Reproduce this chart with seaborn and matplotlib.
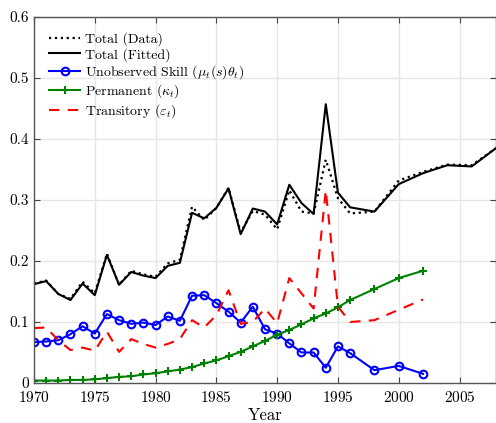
import numpy as np
import pandas as pd
import matplotlib
matplotlib.use("Agg")
import matplotlib.pyplot as plt
import seaborn as sns

# years for the component series (annual to 1996, then every 2 years)
years = list(range(1970, 1997)) + [1998, 2000, 2002]
years_total = years + [2004, 2006, 2008]

total_data = [0.163, 0.168, 0.146, 0.138, 0.166, 0.147, 0.212, 0.161, 0.184, 0.178,
              0.174, 0.196, 0.202, 0.289, 0.267, 0.287, 0.320, 0.247, 0.282, 0.276,
              0.252, 0.316, 0.281, 0.278, 0.366, 0.303, 0.278, 0.281, 0.332, 0.346,
              0.358, 0.357, 0.385]
total_fit = [0.162, 0.167, 0.146, 0.136, 0.163, 0.144, 0.210, 0.161, 0.182, 0.176,
             0.172, 0.192, 0.197, 0.279, 0.270, 0.287, 0.319, 0.244, 0.286, 0.281,
             0.260, 0.325, 0.295, 0.277, 0.457, 0.312, 0.288, 0.281, 0.326, 0.344,
             0.357, 0.355, 0.385]
skill = [0.067, 0.068, 0.070, 0.080, 0.093, 0.081, 0.113, 0.103, 0.097, 0.099,
         0.095, 0.109, 0.102, 0.143, 0.144, 0.131, 0.117, 0.099, 0.125, 0.088,
         0.081, 0.065, 0.050, 0.050, 0.025, 0.060, 0.049, 0.021, 0.028, 0.015]
permanent = [0.004, 0.004, 0.004, 0.005, 0.005, 0.006, 0.008, 0.010, 0.011, 0.014,
             0.016, 0.019, 0.022, 0.026, 0.032, 0.037, 0.044, 0.051, 0.060, 0.069,
             0.079, 0.087, 0.096, 0.106, 0.114, 0.124, 0.136, 0.154, 0.172, 0.184]
transitory = [0.090, 0.091, 0.070, 0.054, 0.058, 0.053, 0.084, 0.051, 0.072, 0.064,
              0.058, 0.064, 0.072, 0.103, 0.091, 0.111, 0.152, 0.097, 0.100, 0.122,
              0.098, 0.172, 0.147, 0.122, 0.316, 0.125, 0.100, 0.103, 0.120, 0.137]

plt.rcParams["font.family"] = "cmr10"
plt.rcParams["mathtext.fontset"] = "cm"
plt.rcParams["axes.unicode_minus"] = False
plt.rcParams["axes.formatter.use_mathtext"] = True

fig = plt.figure(figsize=(4.96, 4.23), dpi=100)
ax = fig.add_axes([0.0685, 0.0946, 0.9315, 0.8652])

sns.lineplot(x=years_total, y=total_data, ax=ax, color="black", linestyle=":",
             linewidth=1.6, label="Total (Data)")
sns.lineplot(x=years_total, y=total_fit, ax=ax, color="black", linewidth=1.5,
             label="Total (Fitted)")
sns.lineplot(x=years, y=skill, ax=ax, color="blue", linewidth=1.5, marker="o",
             markersize=5.5, markerfacecolor="none", markeredgecolor="blue",
             markeredgewidth=1.5, label=r"Unobserved Skill ($\mu_t(s)\theta_t$)")
sns.lineplot(x=years, y=permanent, ax=ax, color="green", linewidth=1.5, marker="+",
             markersize=6, markeredgewidth=1.5, markeredgecolor="green",
             label=r"Permanent ($\kappa_t$)")
sns.lineplot(x=years, y=transitory, ax=ax, color="red", linewidth=1.5,
             linestyle=(0, (5, 4)), label=r"Transitory ($\varepsilon_t$)")

ax.set_xlim(1970, 2008)
ax.set_ylim(0, 0.6)
ax.set_xticks(range(1970, 2006, 5))
ax.set_yticks(np.arange(0, 0.61, 0.1))
ax.set_yticklabels(["0", "0.1", "0.2", "0.3", "0.4", "0.5", "0.6"])
ax.grid(True, color="#e6e6e6", linewidth=1.0)
ax.set_axisbelow(True)
ax.tick_params(direction="in", top=True, right=True, labelsize=11, length=4,
               color="#444444")
ax.tick_params(axis="x", pad=5)
for s in ax.spines.values():
    s.set_color("#555555")
    s.set_linewidth(1.0)
ax.set_xlabel("Year", fontsize=12, labelpad=2)
ax.set_ylabel("")

leg = ax.legend(loc="upper left", frameon=False, fontsize=10, handlelength=2.2,
                handletextpad=0.35, labelspacing=0.12, borderaxespad=0.6,
                borderpad=0.5)

fig.savefig("out.png", dpi=100)
